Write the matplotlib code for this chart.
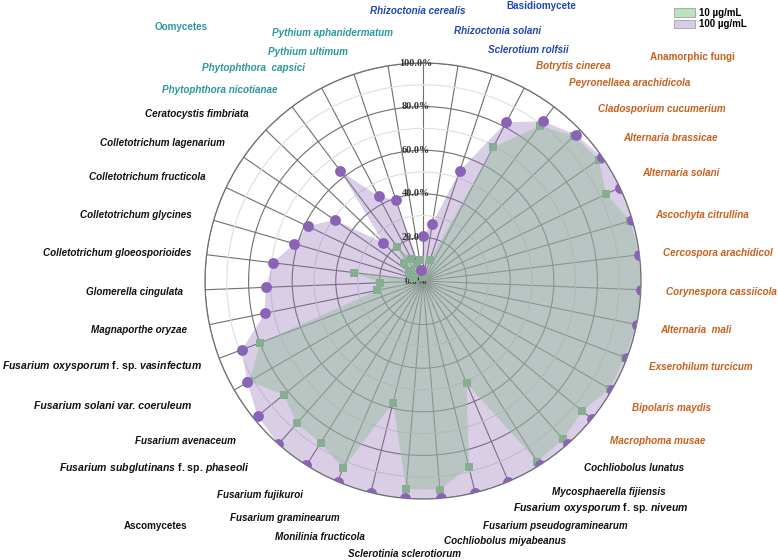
import numpy as np
import matplotlib
matplotlib.use('Agg')
import matplotlib.pyplot as plt
from matplotlib.patches import Patch

plt.rcParams['mathtext.fontset'] = 'custom'
plt.rcParams['mathtext.it'] = 'Liberation Sans:italic:bold'
plt.rcParams['mathtext.rm'] = 'Liberation Sans:bold'

# pathogens, clockwise from the top spoke
species = [
    'Rhizoctonia cerealis', 'Rhizoctonia solani', 'Sclerotium rolfsii',
    'Botrytis cinerea', 'Peyronellaea arachidicola', 'Cladosporium cucumerium',
    'Alternaria brassicae', 'Alternaria solani', 'Ascochyta citrullina',
    'Cercospora arachidicol', 'Corynespora cassiicola', 'Alternaria  mali',
    'Exserohilum turcicum', 'Bipolaris maydis', 'Macrophoma musae',
    'Cochliobolus lunatus', 'Mycosphaerella fijiensis',
    r'$\mathit{Fusarium\ oxysporum}$ f. sp. $\mathit{niveum}$',
    'Fusarium pseudograminearum', 'Cochliobolus miyabeanus',
    'Sclerotinia sclerotiorum', 'Monilinia fructicola', 'Fusarium graminearum',
    'Fusarium fujikuroi',
    r'$\mathit{Fusarium\ subglutinans}$ f. sp. $\mathit{phaseoli}$',
    'Fusarium avenaceum', 'Fusarium solani var. coeruleum',
    r'$\mathit{Fusarium\ oxysporum}$ f. sp. $\mathit{vasinfectum}$',
    'Magnaporthe oryzae', 'Glomerella cingulata',
    'Colletotrichum gloeosporioides', 'Colletotrichum glycines',
    'Colletotrichum fructicola', 'Colletotrichum lagenarium',
    'Ceratocystis fimbriata', 'Phytophthora nicotianae',
    'Phytophthora  capsici', 'Pythium ultimum', 'Pythium aphanidermatum',
]
groups = ['B'] * 3 + ['N'] * 12 + ['A'] * 20 + ['O'] * 4

# inhibition rate (%)
inhib_100 = [20.6, 26.6, 53.4, 82.3, 91.6, 97.0, 100, 100, 100, 100,
             100, 100, 100, 100, 100, 100, 100, 100, 100, 100,
             100, 100, 100, 100, 100, 97.9, 93.1, 88.8, 74.0, 72.2,
             69.4, 61.4, 58.6, 49.3, 25.3, 63.0, 43.8, 39.2, 5.0]
inhib_10 = [2.0, 3.0, 10.0, 69.3, 89.0, 96.0, 98.0, 93.0, 99.0, 100,
            100, 100, 99.0, 99.0, 94.3, 97.0, 98.0, 51.0, 88.0, 96.0,
            95.9, 57.5, 93.4, 87.9, 87.2, 82.5, 92.0, 79.9, 21.4, 19.7,
            31.8, 4.6, 6.0, 8.0, 12.0, 19.6, 11.6, 8.0, 9.7]

ring_ticks = [0, 20, 40, 60, 80, 100]
legend_labels = ['10 \u00b5g/mL', '100 \u00b5g/mL']

group_names = {'O': 'Oomycetes', 'B': 'Basidiomycete',
               'N': 'Anamorphic fungi', 'A': 'Ascomycetes'}
group_colors = {'O': '#2b979c', 'B': '#1f47b4', 'N': '#c8601c', 'A': '#111111'}

# layout (pixel centres of the labels)
label_xy = [(418, 11), (498, 31), (528, 50), (573, 66), (630, 83), (662, 109),
            (670, 138), (681, 173), (702, 215), (718, 253), (721, 292),
            (696, 330), (701, 367), (672, 408), (658, 441), (634, 468),
            (609, 492), (601, 508), (555, 526), (505, 541), (404, 554),
            (320, 537), (285, 518), (260, 495), (154, 468), (185, 441),
            (113, 406), (102, 366), (139, 330), (134, 292), (117, 253),
            (136, 215), (147, 177), (162, 143), (197, 114), (220, 90),
            (254, 68), (308, 52), (332, 33)]
group_xy = {'O': (181, 27), 'B': (541, 6), 'N': (692, 57), 'A': (156, 526)}
big_labels = [17, 24, 26, 27]

W, H = 778, 560
cx, cy, R = 423, 281, 218
fig = plt.figure(figsize=(W / 100, H / 100), dpi=100)
ax = fig.add_axes([(cx - R) / W, (H - cy - R) / H, 2 * R / W, 2 * R / H],
                  projection='polar')
ax.set_theta_zero_location('N')
ax.set_theta_direction(-1)

n = len(species)
theta = np.arange(n) * 2 * np.pi / n
th_c = np.append(theta, theta[0])
v100 = np.array(inhib_100)
v10 = np.array(inhib_10)

# grid sits under the translucent fills
ax.fill(th_c, np.append(v100, v100[0]), color='#8f6bb8', alpha=0.33, lw=0, zorder=3)
ax.fill(th_c, np.append(v10, v10[0]), color='#98be9e', alpha=0.5, lw=0, zorder=3.2)
ax.plot(theta, v10, 's', color='#86ae90', ms=6, mew=0, zorder=5)
ax.plot(theta, v100, 'o', color='#8a62b6', ms=7.8, mew=0, zorder=6)

ax.set_ylim(0, 100)
ax.set_yticks(ring_ticks)
ax.set_yticks([10, 30, 50, 70, 90], minor=True)
ax.set_yticklabels([])
ax.set_xticks(theta)
ax.set_xticklabels([])
ax.set_axisbelow(True)
ax.grid(which='major', color='#6f6f6f', lw=0.8)
ax.grid(which='minor', axis='y', color='#dedede', lw=0.8)
ax.tick_params(which='both', length=0)
ax.spines['polar'].set_color('#6f6f6f')
ax.spines['polar'].set_linewidth(0.9)

for v in ring_ticks:
    ax.annotate(f'{v:.1f}%', xy=(0, v), xytext=(-5, 0), textcoords='offset points',
                ha='center', va='center', fontsize=7.3, fontweight='bold',
                family='Liberation Serif', color='#333333', zorder=4)

for i, name in enumerate(species):
    x, y = label_xy[i]
    style = 'normal' if '$' in name else 'italic'
    size = 7.6 if i in big_labels else 7.1
    fig.text(x / W, 1 - y / H, name, ha='center', va='center', fontsize=size,
             fontweight='bold', style=style, family='Liberation Sans',
             color=group_colors[groups[i]])

for g, (x, y) in group_xy.items():
    fig.text(x / W, 1 - y / H, group_names[g], ha='center', va='center',
             fontsize=7.1, fontweight='bold', family='Liberation Sans',
             color=group_colors[g])

handles = [Patch(facecolor='#b9e2bd', edgecolor='#a0a0a0', lw=0.6, label=legend_labels[0]),
           Patch(facecolor='#d8cde7', edgecolor='#a0a0a0', lw=0.6, label=legend_labels[1])]
fig.legend(handles=handles, loc='upper left', bbox_to_anchor=(674 / W, 1 - 8 / H),
           frameon=False, handlelength=2.2, handleheight=0.95, labelspacing=0.15,
           handletextpad=0.4, borderpad=0, borderaxespad=0,
           prop={'family': 'Liberation Sans', 'weight': 'bold', 'size': 7})

fig.savefig('out.png', dpi=100)
